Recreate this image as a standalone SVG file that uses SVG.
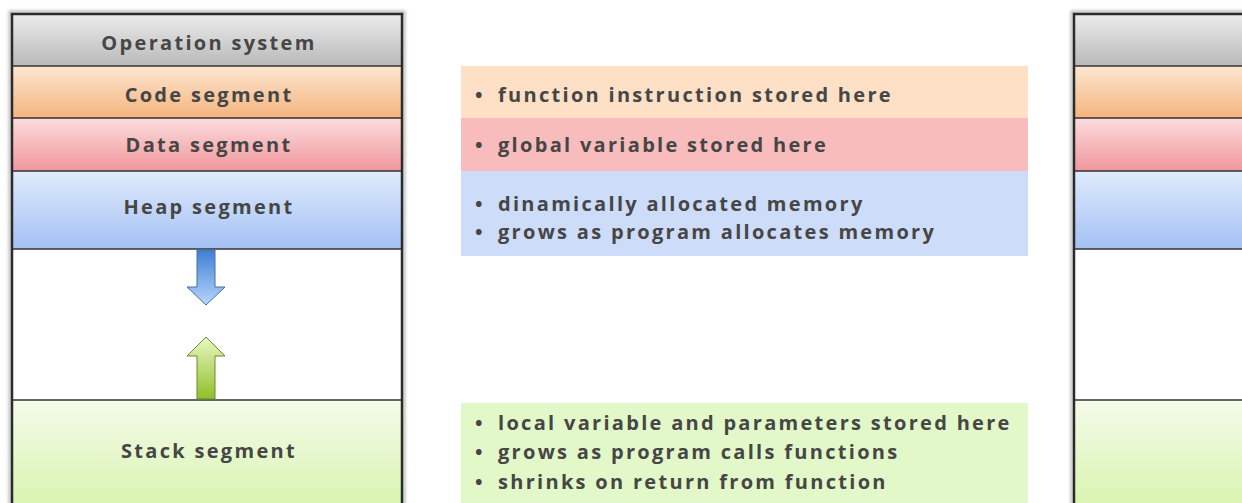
<svg xmlns="http://www.w3.org/2000/svg" width="1242" height="503" viewBox="0 0 1242 503">
  <style>
    .lbl { font-family: "Open Sans", "Liberation Sans", sans-serif; font-weight: 700; font-size: 20px; fill: #464646; letter-spacing: 2.3px; }
    .mid { text-anchor: middle; }
    .row { stroke: #333; stroke-width: 1.5; }
    .frame { fill: none; stroke: #2b2b2b; stroke-width: 2.5; }
  </style>
  <defs>
    <linearGradient id="gOs" x1="0" y1="0" x2="0" y2="1"><stop offset="0" stop-color="#ececec"/><stop offset="1" stop-color="#b9b9b9"/></linearGradient>
    <linearGradient id="gCode" x1="0" y1="0" x2="0" y2="1"><stop offset="0" stop-color="#fde6d2"/><stop offset="1" stop-color="#f4b47d"/></linearGradient>
    <linearGradient id="gData" x1="0" y1="0" x2="0" y2="1"><stop offset="0" stop-color="#fcdcde"/><stop offset="1" stop-color="#f0979b"/></linearGradient>
    <linearGradient id="gHeap" x1="0" y1="0" x2="0" y2="1"><stop offset="0" stop-color="#e0eafc"/><stop offset="1" stop-color="#a3c1f4"/></linearGradient>
    <linearGradient id="gStack" x1="0" y1="0" x2="0" y2="1"><stop offset="0" stop-color="#f4fbea"/><stop offset="1" stop-color="#d8f4ae"/></linearGradient>
    <linearGradient id="gDown" x1="0" y1="0" x2="0" y2="1"><stop offset="0" stop-color="#3f7fd6"/><stop offset="1" stop-color="#b8d6fb"/></linearGradient>
    <linearGradient id="gUp" x1="0" y1="0" x2="0" y2="1"><stop offset="0" stop-color="#eaf8c2"/><stop offset="1" stop-color="#8fbf2a"/></linearGradient>
    <filter id="soft" x="-5%" y="-5%" width="110%" height="110%"><feGaussianBlur stdDeviation="1.5"/></filter>
  </defs>

  <rect width="1242" height="503" fill="#ffffff"/>

  <!-- left memory map -->
  <g id="memory-map">
    <rect x="10" y="12" width="394" height="500" fill="none" stroke="#bbb" stroke-width="3" filter="url(#soft)"/>
    <g id="os"><rect x="12" y="14" width="390" height="52" fill="url(#gOs)"/><text class="lbl mid" x="209" y="50">Operation system</text></g>
    <g id="code"><rect x="12" y="66" width="390" height="52" fill="url(#gCode)"/><text class="lbl mid" x="209" y="102">Code segment</text></g>
    <g id="data"><rect x="12" y="118" width="390" height="53" fill="url(#gData)"/><text class="lbl mid" x="209" y="152">Data segment</text></g>
    <g id="heap"><rect x="12" y="171" width="390" height="78" fill="url(#gHeap)"/><text class="lbl mid" x="209" y="214">Heap segment</text></g>
    <g id="free"><rect x="12" y="249" width="390" height="151" fill="#ffffff"/></g>
    <g id="stack"><rect x="12" y="400" width="390" height="110" fill="url(#gStack)"/><text class="lbl mid" x="209" y="458">Stack segment</text></g>
    <line class="row" x1="12" y1="66" x2="402" y2="66"/>
    <line class="row" x1="12" y1="118" x2="402" y2="118"/>
    <line class="row" x1="12" y1="171" x2="402" y2="171"/>
    <line class="row" x1="12" y1="249" x2="402" y2="249"/>
    <line class="row" x1="12" y1="400" x2="402" y2="400"/>
    <path class="frame" d="M12 510 V14 H402 V510"/>
  </g>

  <!-- growth arrows -->
  <g id="connectors">
    <path d="M197 250 H215 V287 H225 L206 305 L187 287 H197 Z" fill="url(#gDown)" stroke="#4a6f9e" stroke-width="1"/>
    <path d="M197 399 H215 V356 H225 L206 337 L187 356 H197 Z" fill="url(#gUp)" stroke="#6d8a2a" stroke-width="1"/>
  </g>

  <!-- descriptions -->
  <g id="desc-code"><rect x="461" y="66" width="567" height="52" fill="#fde0c6"/>
    <text class="lbl" x="475" y="102">•<tspan x="498">function instruction stored here</tspan></text>
  </g>
  <g id="desc-data"><rect x="461" y="118" width="567" height="53" fill="#f8bcbc"/>
    <text class="lbl" x="475" y="152">•<tspan x="498">global variable stored here</tspan></text>
  </g>
  <g id="desc-heap"><rect x="461" y="171" width="567" height="85" fill="#cddcf8"/>
    <text class="lbl" x="475" y="211">•<tspan x="498">dinamically allocated memory</tspan></text>
    <text class="lbl" x="475" y="239">•<tspan x="498">grows as program allocates memory</tspan></text>
  </g>
  <g id="desc-stack"><rect x="461" y="403" width="567" height="100" fill="#e2f8c8"/>
    <text class="lbl" x="475" y="430">•<tspan x="498">local variable and parameters stored here</tspan></text>
    <text class="lbl" x="475" y="459">•<tspan x="498">grows as program calls functions</tspan></text>
    <text class="lbl" x="475" y="489">•<tspan x="498">shrinks on return from function</tspan></text>
  </g>

  <!-- right memory map (cut off) -->
  <g id="memory-map-2">
    <rect x="1072" y="12" width="200" height="500" fill="none" stroke="#bbb" stroke-width="3" filter="url(#soft)"/>
    <rect x="1074" y="14" width="170" height="52" fill="url(#gOs)"/>
    <rect x="1074" y="66" width="170" height="52" fill="url(#gCode)"/>
    <rect x="1074" y="118" width="170" height="53" fill="url(#gData)"/>
    <rect x="1074" y="171" width="170" height="78" fill="url(#gHeap)"/>
    <rect x="1074" y="249" width="170" height="151" fill="#ffffff"/>
    <rect x="1074" y="400" width="170" height="110" fill="url(#gStack)"/>
    <line class="row" x1="1074" y1="66" x2="1244" y2="66"/>
    <line class="row" x1="1074" y1="118" x2="1244" y2="118"/>
    <line class="row" x1="1074" y1="171" x2="1244" y2="171"/>
    <line class="row" x1="1074" y1="249" x2="1244" y2="249"/>
    <line class="row" x1="1074" y1="400" x2="1244" y2="400"/>
    <path class="frame" d="M1074 510 V14 H1244"/>
  </g>
</svg>
